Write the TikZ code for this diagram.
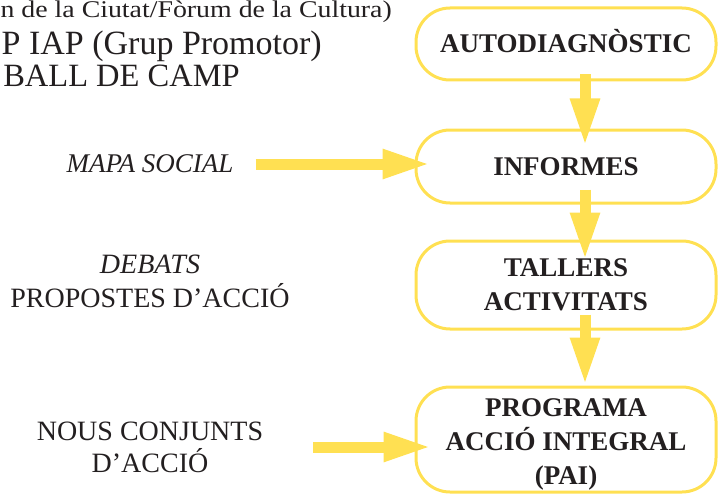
\documentclass[tikz,border=0pt]{standalone}
\usepackage{fontspec}
\setmainfont{Liberation Serif}
\usetikzlibrary{arrows.meta}
\definecolor{gold}{HTML}{FFE052}
\definecolor{ink}{HTML}{231F20}
\begin{document}
\begin{tikzpicture}[x=1pt,y=-1pt,
  stage/.style={draw=gold, line width=3pt, rounded corners=34pt, minimum width=300pt,
    text=ink, font=\fontsize{27}{34}\selectfont\bfseries, align=center, inner sep=0pt},
  flow/.style={draw=gold, line width=11pt, -{Triangle[length=48pt,width=27pt]}},
  txt/.style={text=ink, inner sep=0pt, align=center, font=\fontsize{28}{33}\selectfont},
]
\useasboundingbox (0,0) rectangle (718,495);
\clip (0,0) rectangle (718,495);

% top-left (cropped) texts
\node[txt, anchor=base east, font=\fontsize{24}{27}\selectfont] (t1) at (392,18) {\scalebox{1.16}[1]{n de la Ciutat/Fòrum de la Cultura)}};
\node[txt, anchor=base east, font=\fontsize{34}{36}\selectfont] (t2) at (322,55) {P IAP (Grup Promotor)};
\node[txt, anchor=base east, font=\fontsize{32.5}{36}\selectfont] (t3) at (240,86) {BALL DE CAMP};

% stages
\node[stage, minimum height=72pt, text height=18pt, text depth=0pt] (auto) at (566,44) {AUTODIAGNÒSTIC};
\node[stage, minimum height=73pt] (info) at (566,166.5) {INFORMES};
\node[stage, minimum height=88pt] (tall) at (566,285) {TALLERS\\ACTIVITATS};
\node[stage, minimum height=105pt] (prog) at (566,439.5) {\rule{0pt}{28pt}PROGRAMA\\ACCIÓ INTEGRAL\\(PAI)};

% side texts
\node[txt, font=\fontsize{27}{33}\selectfont\itshape] (mapa) at (150,164) {MAPA SOCIAL};
\node[txt, font=\fontsize{28}{34}\selectfont] (deb) at (150,281) {\textit{DEBATS}\\PROPOSTES D’ACCIÓ};
\node[txt, font=\fontsize{28}{32}\selectfont] (nous) at (150,447) {NOUS CONJUNTS\\D’ACCIÓ};

% flow arrows
\draw[flow] ([xshift=19pt,yshift=7pt]auto.south) -- ([xshift=19pt,yshift=-18pt]info.north);
\draw[flow] ([xshift=19pt,yshift=15pt]info.south) -- ([xshift=19pt,yshift=-21pt]tall.north);
\draw[flow] ([xshift=19pt,yshift=16pt]tall.south) -- ([xshift=19pt]prog.north);
\draw[flow] ([xshift=22pt]mapa.east) -- ([xshift=16pt]mapa.east -| info.west);
\draw[flow] ([xshift=50pt]nous.east) -- ([xshift=17pt]nous.east -| prog.west);
\end{tikzpicture}
\end{document}
